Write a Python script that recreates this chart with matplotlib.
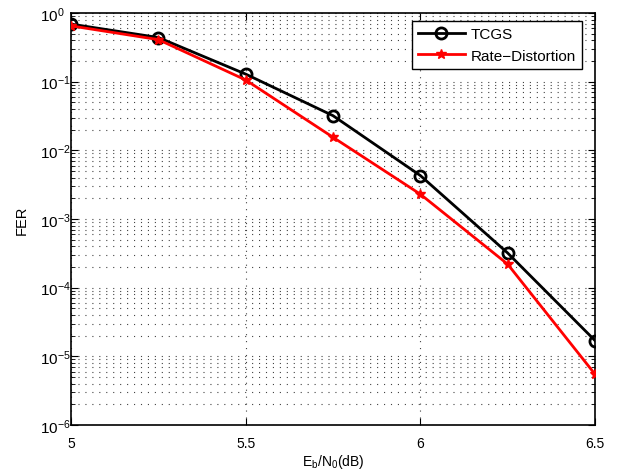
import numpy as np
import matplotlib.pyplot as plt
from matplotlib.ticker import FixedLocator, NullFormatter

plt.rcParams['font.family'] = ['Liberation Sans', 'DejaVu Sans']
plt.rcParams['mathtext.fontset'] = 'custom'
plt.rcParams['mathtext.rm'] = 'Liberation Sans'
plt.rcParams['mathtext.it'] = 'Liberation Sans'
plt.rcParams['lines.scale_dashes'] = False

# data
ebn0 = [5.0, 5.25, 5.5, 5.75, 6.0, 6.25, 6.5]
fer_tcgs = [0.69, 0.44, 0.129, 0.032, 0.0043, 3.2e-4, 1.7e-5]
fer_rd = [0.65, 0.41, 0.106, 0.0155, 0.0023, 2.2e-4, 5.5e-6]

x_ticks = [5, 5.5, 6, 6.5]
y_exps = [0, -1, -2, -3, -4, -5, -6]

fig = plt.figure(figsize=(6.24, 4.77), dpi=100)
ax = fig.add_axes([0.1138, 0.1069, 0.8397, 0.8637])

ax.semilogy(ebn0, fer_tcgs, '-o', color='black', lw=2, ms=8,
            mfc='none', mew=2, label='TCGS', zorder=3)
ax.semilogy(ebn0, fer_rd, '-*', color='red', lw=2, ms=7.5,
            mfc='red', label='Rate\u2212Distortion', zorder=4)

ax.set_xlim(5, 6.5)
ax.set_ylim(1e-6, 1)
ax.set_xticks(x_ticks)
ax.set_xticklabels([f'{t:g}' for t in x_ticks])
ax.set_yticks([10.0 ** e for e in y_exps])
ax.set_yticklabels([f'$10^{{{e}}}$' for e in y_exps])
minor = [m * 10.0 ** e for e in range(-6, 0) for m in range(2, 10)]
ax.yaxis.set_minor_locator(FixedLocator(minor))
ax.yaxis.set_minor_formatter(NullFormatter())

grid_style = dict(linestyle=(0, (0.8, 4.2)), color='#444444', lw=0.8)
ax.grid(True, which='major', axis='both', **grid_style)
ax.grid(True, which='minor', axis='y', **grid_style)

ax.tick_params(which='both', direction='in', top=True, right=True)
ax.tick_params(axis='x', labelsize=10, pad=8)
ax.tick_params(axis='y', labelsize=11, pad=22)
for lbl in ax.get_yticklabels():
    lbl.set_horizontalalignment('left')
ax.tick_params(which='major', length=5)
ax.tick_params(which='minor', length=3)
for s in ax.spines.values():
    s.set_linewidth(1.2)

ax.set_xlabel('E$_b$/N$_0$(dB)', fontsize=10, labelpad=1)
ax.set_ylabel('FER', fontsize=10.5)
ax.yaxis.set_label_coords(-0.08, 0.5)

leg = ax.legend(loc='upper right', bbox_to_anchor=(0.975, 0.9806), fontsize=11,
                fancybox=False, framealpha=1, edgecolor='black',
                borderaxespad=0, handlelength=3.07, handletextpad=0.39,
                borderpad=0.4, labelspacing=0.5)
leg.get_frame().set_linewidth(1)

fig.savefig('out.png', dpi=100)
